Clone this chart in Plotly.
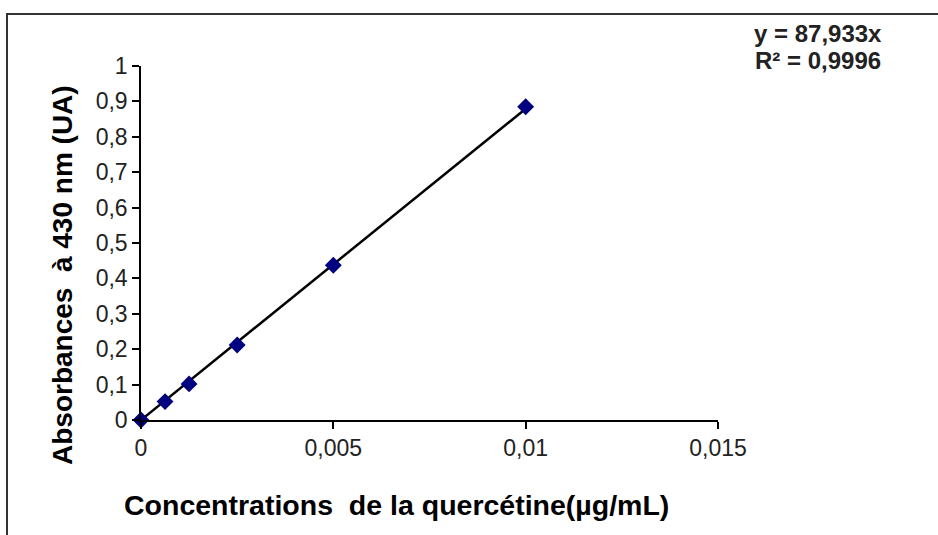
import plotly.graph_objects as go

conc = [0, 0.000625, 0.00125, 0.0025, 0.005, 0.01]
absorb = [0, 0.052, 0.102, 0.212, 0.437, 0.885]
slope = 87.933
fit_x = [0, 0.01]
fit_y = [slope * v for v in fit_x]

x_ticks = [0, 0.005, 0.01, 0.015]
x_tick_text = ["0", "0,005", "0,01", "0,015"]
y_ticks = [0, 0.1, 0.2, 0.3, 0.4, 0.5, 0.6, 0.7, 0.8, 0.9, 1]
y_tick_text = ["0", "0,1", "0,2", "0,3", "0,4", "0,5", "0,6", "0,7", "0,8", "0,9", "1"]

W, H = 938, 535
L, R, T, B = 141, 220, 66, 115
pw, ph = W - L - R, H - T - B

def px(x):
    return (x - L) / pw

def py(y):
    return (H - B - y) / ph

font = "Liberation Sans, Arial, sans-serif"

fig = go.Figure()
fig.add_trace(go.Scatter(x=fit_x, y=fit_y, mode="lines",
                         line=dict(color="black", width=2.5), showlegend=False))
fig.add_trace(go.Scatter(x=conc, y=absorb, mode="markers",
                         marker=dict(symbol="diamond", size=13, color="#000080"),
                         showlegend=False, cliponaxis=False))

fig.update_layout(
    width=W, height=H,
    margin=dict(l=L, r=R, t=T, b=B),
    paper_bgcolor="white", plot_bgcolor="white",
    font=dict(family=font, size=24, color="#222222"),
    xaxis=dict(range=[0, 0.015], tickvals=x_ticks, ticktext=x_tick_text,
               showgrid=False, zeroline=False, showline=True, linecolor="black",
               linewidth=1.5, ticks="outside", ticklen=7, tickwidth=1.5,
               tickcolor="black", tickfont=dict(size=23)),
    yaxis=dict(range=[0, 1], tickvals=y_ticks, ticktext=y_tick_text,
               showgrid=False, zeroline=False, showline=True, linecolor="black",
               linewidth=1.5, ticks="outside", ticklen=7, tickwidth=1.5,
               tickcolor="black", tickfont=dict(size=23)),
    shapes=[dict(type="rect", xref="paper", yref="paper",
                 x0=px(7), x1=px(960), y0=py(14), y1=py(560),
                 line=dict(color="#333333", width=2), fillcolor="rgba(0,0,0,0)")],
    annotations=[
        dict(text="<b>Concentrations  de la quercétine(µg/mL)</b>", xref="paper", yref="paper",
             x=px(396), y=py(505), showarrow=False, font=dict(size=28.5, color="black"),
             xanchor="center", yanchor="middle"),
        dict(text="<b>Absorbances  à 430 nm (UA)</b>", xref="paper", yref="paper",
             x=px(62), y=py(275), showarrow=False, font=dict(size=28, color="black"), textangle=-90,
             xanchor="center", yanchor="middle"),
        dict(text="<b>y = 87,933x</b>", xref="paper", yref="paper",
             x=px(818), y=py(34), showarrow=False, font=dict(size=24),
             xanchor="center", yanchor="middle"),
        dict(text="<b>R² = 0,9996</b>", xref="paper", yref="paper",
             x=px(818), y=py(61), showarrow=False, font=dict(size=24),
             xanchor="center", yanchor="middle"),
    ],
)

fig.write_html("out.html")
